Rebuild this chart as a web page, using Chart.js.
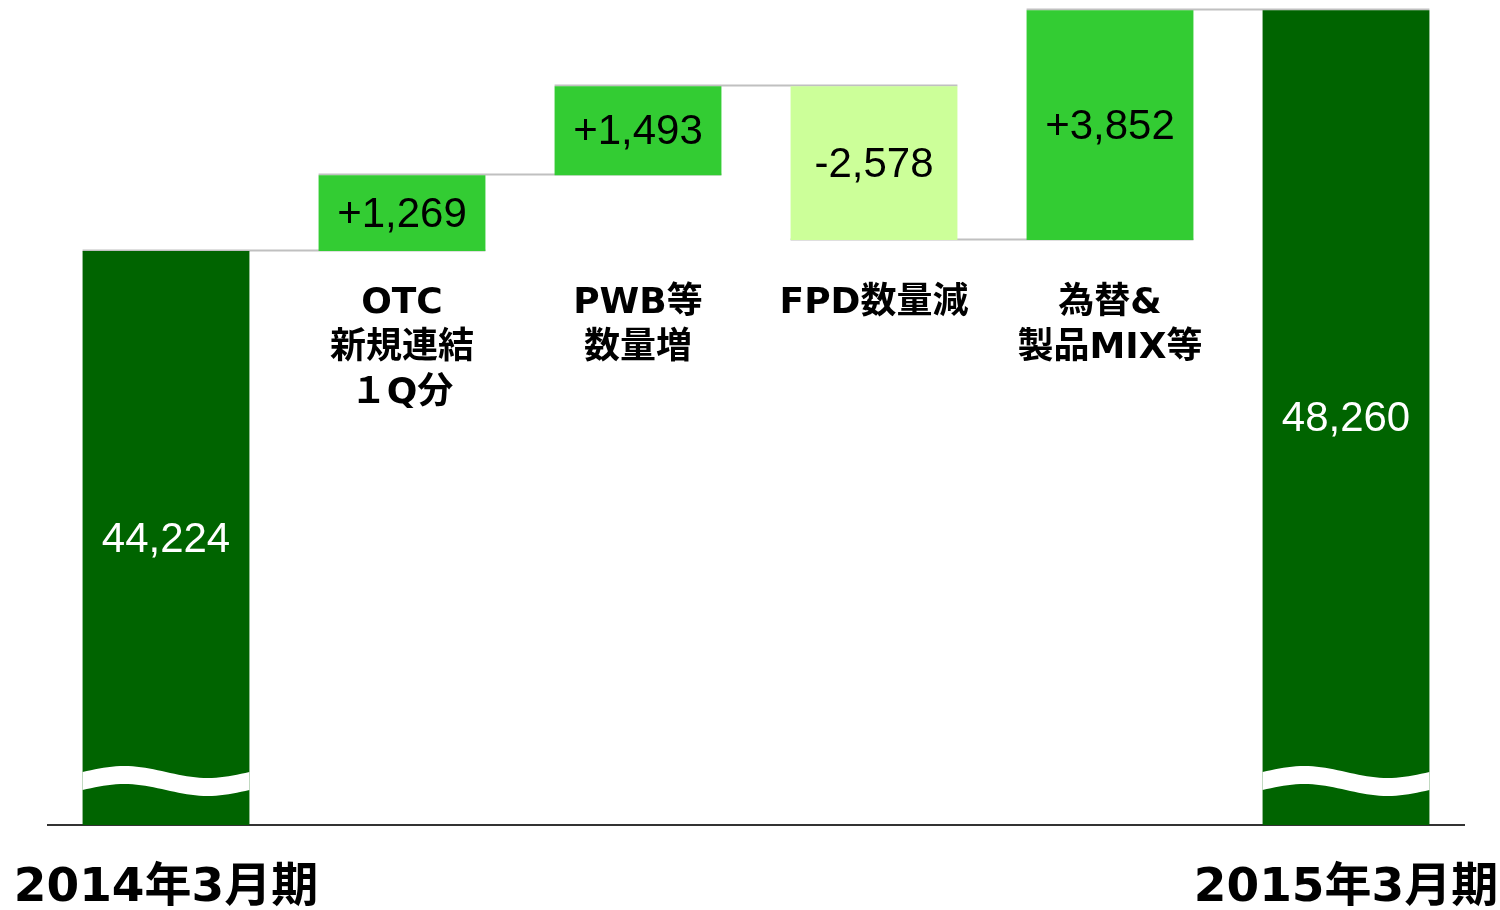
<!DOCTYPE html>
<html>
<head>
<meta charset="utf-8">
<script src="https://cdn.jsdelivr.net/npm/chart.js@4"></script>
<style>
  html, body { margin: 0; padding: 0; background: #fff; }
  #wrap { width: 1500px; height: 910px; }
</style>
</head>
<body>
<div id="wrap"><canvas id="bridge"></canvas></div>
<script>
// Values
const stepNames = ['', ['OTC', '新規連結', '１Q分'], ['PWB等', '数量増'], ['FPD数量減'], ['為替&', '製品MIX等'], ''];
const tickLabels = ['2014年3月期', '', '', '', '', '2015年3月期'];
const startValue = 44224;
const changes = [1269, 1493, -2578, 3852];
const endValue = 48260;
const axisMin = 34600;
const axisMax = 48430;

const darkGreen = '#006400';
const upGreen = '#33cc33';
const downGreen = '#ccff99';
const boldFace = '"DejaVu Sans", "Noto Sans CJK JP", sans-serif';

// build floating bars from the values
const bars = [[axisMin, startValue]];
const barColors = [darkGreen];
const barText = [startValue.toLocaleString('en-US')];
let run = startValue;
changes.forEach(function(c) {
    bars.push([Math.min(run, run + c), Math.max(run, run + c)]);
    barColors.push(c >= 0 ? upGreen : downGreen);
    barText.push((c >= 0 ? '+' : '-') + Math.abs(c).toLocaleString('en-US'));
    run += c;
});
bars.push([axisMin, endValue]);
barColors.push(darkGreen);
barText.push(endValue.toLocaleString('en-US'));

const levels = [startValue];
run = startValue;
changes.forEach(function(c) { run += c; levels.push(run); });

// connectors, wave break, value labels, step names, period labels
const bridgePlugin = {
    id: 'bridge',
    beforeDatasetsDraw(chart) {
        const ctx = chart.ctx;
        const meta = chart.getDatasetMeta(0);
        const y = chart.scales.y;
        ctx.save();
        ctx.strokeStyle = '#c0c0c0';
        ctx.lineWidth = 2;
        levels.forEach(function(v, i) {
            const a = meta.data[i], b = meta.data[i + 1];
            const py = Math.round(y.getPixelForValue(v)) - 0.5;
            ctx.beginPath();
            ctx.moveTo(a.x - a.width / 2, py);
            ctx.lineTo(b.x + b.width / 2, py);
            ctx.stroke();
        });
        ctx.restore();
    },
    afterDatasetsDraw(chart) {
        const ctx = chart.ctx;
        const meta = chart.getDatasetMeta(0);
        const area = chart.chartArea;
        const x = chart.scales.x;
        ctx.save();
        ctx.textAlign = 'center';
        ctx.textBaseline = 'middle';
        meta.data.forEach(function(el, i) {
            const left = el.x - el.width / 2;
            const w = el.width;
            const dark = barColors[i] === darkGreen;
            if (dark) {
                // broken-axis wave
                const mid = area.bottom - 44, amp = 6, half = 9;
                ctx.fillStyle = '#ffffff';
                ctx.beginPath();
                for (let k = 0; k <= 40; k++) {
                    const t = k / 40;
                    const yy = mid - half - amp * Math.sin(2 * Math.PI * t);
                    if (k === 0) ctx.moveTo(left, yy); else ctx.lineTo(left + w * t, yy);
                }
                for (let k = 40; k >= 0; k--) {
                    const t = k / 40;
                    ctx.lineTo(left + w * t, mid + half - amp * Math.sin(2 * Math.PI * t));
                }
                ctx.closePath();
                ctx.fill();
            }
            // value label
            ctx.fillStyle = dark ? '#ffffff' : '#000000';
            ctx.font = '42px "Liberation Sans", Arial, sans-serif';
            ctx.fillText(barText[i], el.x, (el.y + el.base) / 2 + 2);
            // step name
            const name = stepNames[i];
            if (name) {
                ctx.fillStyle = '#000000';
                ctx.font = 'bold 36px ' + boldFace;
                name.forEach(function(line, j) {
                    ctx.fillText(line, el.x, 304 + j * 45);
                });
            }
            // period label under the axis
            if (tickLabels[i]) {
                ctx.fillStyle = '#000000';
                ctx.font = 'bold 47px ' + boldFace;
                ctx.fillText(tickLabels[i], x.getPixelForValue(i), 889);
            }
        });
        ctx.restore();
    }
};

const ctx = document.getElementById('bridge').getContext('2d');
const bridgeChart = new Chart(ctx, {
    type: 'bar',
    data: {
        labels: tickLabels,
        datasets: [{
            data: bars,
            backgroundColor: barColors,
            borderWidth: 0,
            barPercentage: 0.707,
            categoryPercentage: 1.0
        }]
    },
    options: {
        responsive: true,
        maintainAspectRatio: false,
        animation: false,
        layout: { padding: { left: 48, right: 36, top: 0, bottom: 0 } },
        plugins: {
            legend: { display: false },
            tooltip: { enabled: false }
        },
        scales: {
            y: {
                display: false,
                min: axisMin,
                max: axisMax
            },
            x: {
                grid: { display: false, drawTicks: false },
                border: { display: true, color: '#333333', width: 2 },
                ticks: { display: false },
                afterFit(scale) { scale.height = 85; }
            }
        }
    },
    plugins: [bridgePlugin]
});
</script>
</body>
</html>
